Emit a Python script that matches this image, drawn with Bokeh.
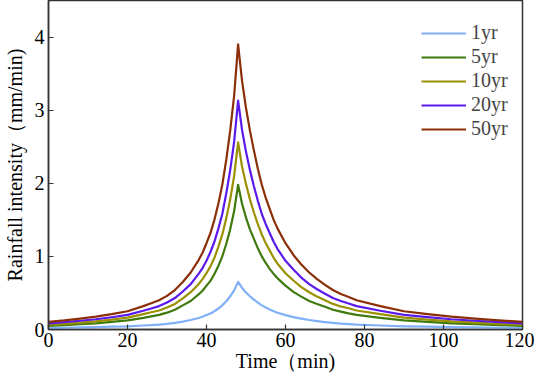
from bokeh.plotting import figure
from bokeh.models import Legend, LegendItem, FixedTicker, ColumnDataSource
from bokeh.embed import file_html
from bokeh.resources import INLINE

time_min = [0, 4, 8, 12, 16, 20, 24, 26, 28, 30, 32, 34, 36, 38,
            39, 40, 41, 42, 43, 44, 45, 46, 47, 48,
            49, 50, 51, 52, 53, 54, 55, 56, 57, 58,
            60, 62, 64, 66, 68, 70, 72, 74, 76, 78,
            84, 90, 96, 102, 108, 114, 120]
yr50 = [0.105, 0.125, 0.15, 0.175, 0.21, 0.25, 0.32, 0.36, 0.40, 0.46, 0.54, 0.65, 0.78, 0.95,
        1.05, 1.18, 1.32, 1.50, 1.72, 1.98, 2.32, 2.72, 3.20, 3.90,
        3.40, 3.03, 2.72, 2.45, 2.20, 1.98, 1.80, 1.65, 1.50, 1.38,
        1.18, 1.02, 0.89, 0.78, 0.69, 0.61, 0.54, 0.485, 0.445, 0.40,
        0.32, 0.25, 0.21, 0.175, 0.15, 0.125, 0.105]
yr20 = [0.084, 0.10, 0.12, 0.14, 0.168, 0.20, 0.256, 0.288, 0.32, 0.37, 0.43, 0.52, 0.62, 0.76,
        0.84, 0.94, 1.06, 1.20, 1.38, 1.58, 1.86, 2.18, 2.57, 3.13,
        2.73, 2.43, 2.18, 1.96, 1.76, 1.58, 1.44, 1.32, 1.20, 1.10,
        0.94, 0.82, 0.71, 0.62, 0.55, 0.49, 0.43, 0.39, 0.356, 0.32,
        0.256, 0.20, 0.168, 0.14, 0.12, 0.10, 0.084]
yr10 = [0.065, 0.078, 0.094, 0.11, 0.134, 0.162, 0.21, 0.236, 0.26, 0.30, 0.35, 0.425, 0.51, 0.62,
        0.69, 0.77, 0.865, 0.98, 1.13, 1.30, 1.52, 1.78, 2.10, 2.56,
        2.23, 1.99, 1.78, 1.60, 1.44, 1.30, 1.18, 1.08, 0.98, 0.90,
        0.77, 0.67, 0.58, 0.51, 0.45, 0.40, 0.35, 0.315, 0.29, 0.26,
        0.21, 0.162, 0.134, 0.11, 0.094, 0.078, 0.065]
yr5 = [0.05, 0.06, 0.072, 0.085, 0.104, 0.125, 0.16, 0.18, 0.20, 0.23, 0.27, 0.33, 0.39, 0.48,
       0.53, 0.60, 0.665, 0.76, 0.87, 1.0, 1.17, 1.37, 1.62, 1.98,
       1.72, 1.53, 1.37, 1.24, 1.11, 1.0, 0.91, 0.83, 0.76, 0.70,
       0.60, 0.515, 0.45, 0.39, 0.35, 0.31, 0.27, 0.245, 0.22, 0.20,
       0.16, 0.125, 0.104, 0.085, 0.072, 0.06, 0.05]
yr1 = [0.02, 0.024, 0.028, 0.032, 0.038, 0.044, 0.055, 0.06, 0.068, 0.077, 0.09, 0.108, 0.13, 0.158,
       0.175, 0.197, 0.22, 0.25, 0.287, 0.33, 0.387, 0.454, 0.535, 0.65,
       0.568, 0.506, 0.454, 0.41, 0.367, 0.33, 0.30, 0.275, 0.25, 0.23,
       0.197, 0.17, 0.149, 0.13, 0.115, 0.102, 0.09, 0.081, 0.074, 0.067,
       0.055, 0.044, 0.038, 0.032, 0.028, 0.024, 0.02]

series_names = ["1yr", "5yr", "10yr", "20yr", "50yr"]
series_values = [yr1, yr5, yr10, yr20, yr50]
colors = ["#7fb0f8", "#3f7a0c", "#9a9000", "#5a1aec", "#8c2f08"]

x_ticks = [0, 20, 40, 60, 80, 100, 120]
y_ticks = [0, 1, 2, 3, 4]

FONT = "Liberation Serif"

p = figure(width=534, height=374, x_range=(0, 120), y_range=(0, 4.5),
           output_backend="svg", toolbar_location=None,
           min_border_left=45, min_border_right=12, min_border_top=0, min_border_bottom=0)

p.xgrid.visible = False
p.ygrid.visible = False
p.outline_line_color = "#333333"
p.outline_line_width = 1.5
p.background_fill_color = "white"
p.border_fill_color = "white"

items = []
for name, vals, c in zip(series_names, series_values, colors):
    src = ColumnDataSource(dict(t=time_min, v=vals))
    r = p.line("t", "v", source=src, line_color=c, line_width=2.2, line_join="round")
    items.append(LegendItem(label=name, renderers=[r]))

for ax in (p.xaxis[0], p.yaxis[0]):
    ax.axis_line_color = "#333333"
    ax.axis_line_width = 1.5
    ax.major_tick_in = 5
    ax.major_tick_out = 0
    ax.major_tick_line_color = "#333333"
    ax.major_tick_line_width = 1.2
    ax.minor_tick_line_color = None
    ax.major_label_text_font = FONT
    ax.major_label_text_font_size = "20px"
    ax.major_label_text_color = "black"
    ax.axis_label_text_font = FONT
    ax.axis_label_text_font_size = "20px"
    ax.axis_label_text_font_style = "normal"
    ax.axis_label_text_color = "black"

p.xaxis[0].ticker = FixedTicker(ticks=x_ticks)
p.yaxis[0].ticker = FixedTicker(ticks=y_ticks)
p.xaxis[0].axis_label = "Time（min)"
p.yaxis[0].axis_label = "Rainfall intensity（mm/min)"
p.xaxis[0].major_label_standoff = 3
p.yaxis[0].major_label_standoff = 4
p.xaxis[0].axis_label_standoff = 0
p.yaxis[0].axis_label_standoff = 6

legend = Legend(items=items, location=(373, 189))
legend.border_line_color = None
legend.background_fill_alpha = 0
legend.label_text_font = FONT
legend.label_text_font_size = "20px"
legend.glyph_width = 45
legend.glyph_height = 20
legend.label_height = 20
legend.spacing = 1
legend.label_standoff = 5
legend.margin = 0
legend.padding = 4
p.add_layout(legend)

open("out.html", "w").write(file_html(p, INLINE))
